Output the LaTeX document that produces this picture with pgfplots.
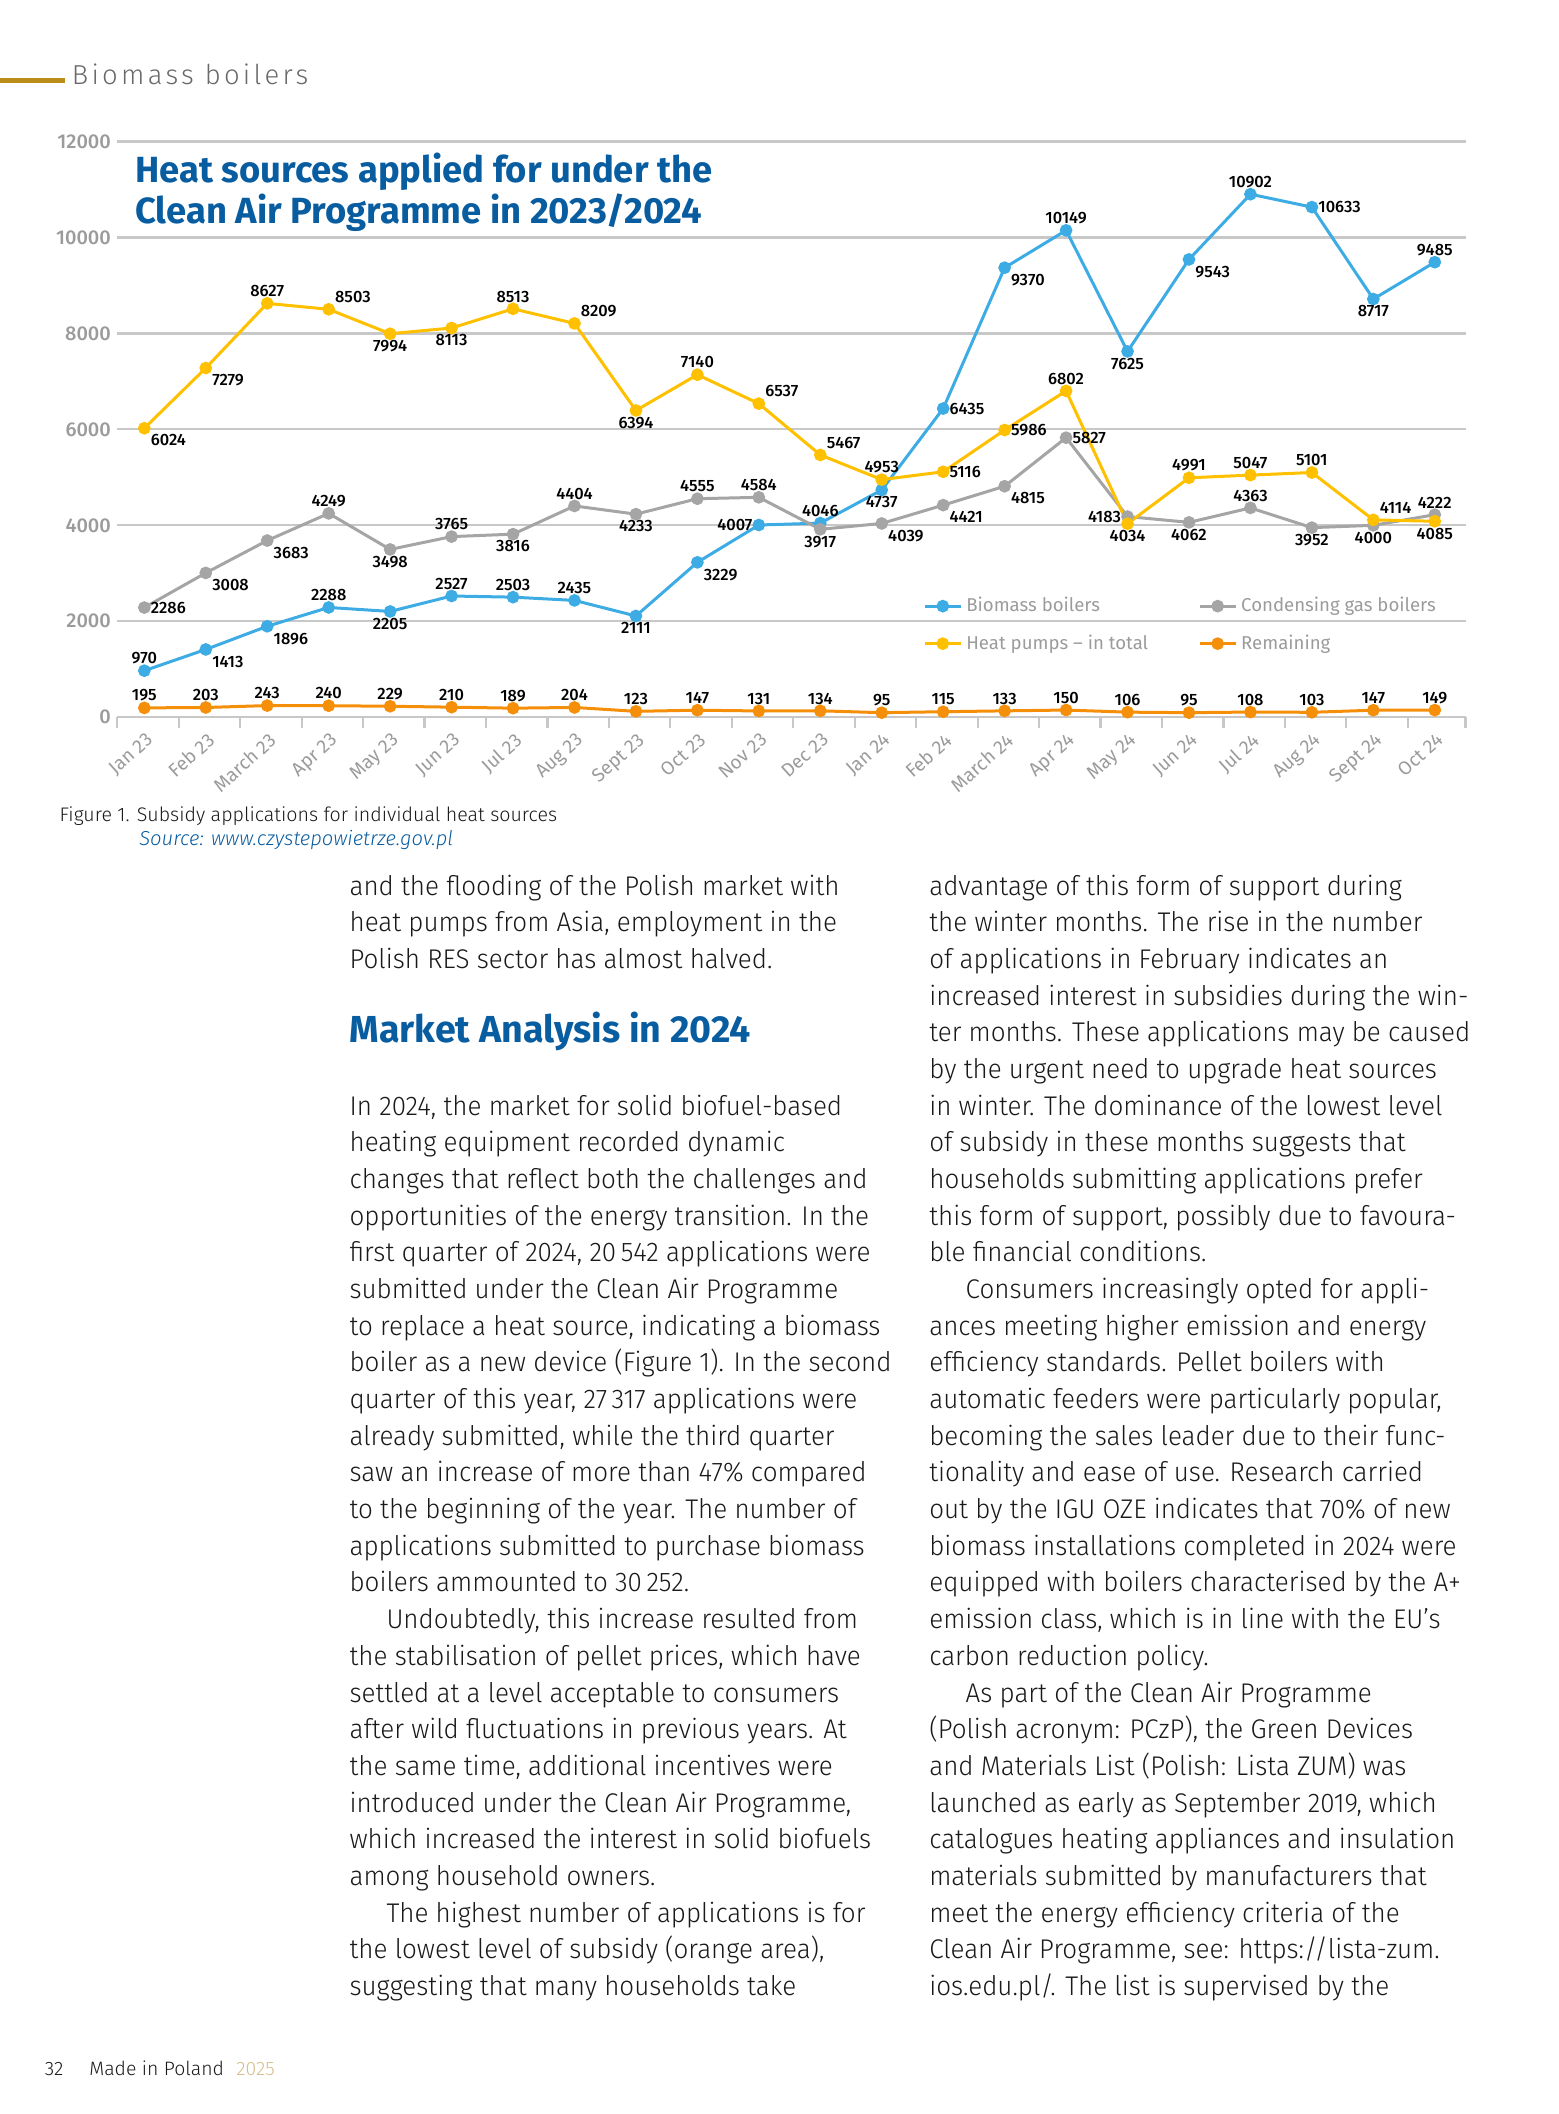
\documentclass[border=0pt]{standalone}
\usepackage{fontspec}
\setmainfont{Fira Sans}
\newfontfamily\bodyfont{Fira Sans Light}[FakeStretch=0.962]
\newfontfamily\lightfont{Fira Sans Light}
\newfontfamily\labfont{Fira Sans Medium}
\usepackage{pgfplots}
\usepackage{pgfplotstable}
\pgfplotsset{compat=1.18}

\definecolor{bioBlue}{RGB}{62,172,228}
\definecolor{hpYellow}{RGB}{255,192,0}
\definecolor{gasGrey}{RGB}{165,165,165}
\definecolor{remOrange}{RGB}{245,143,10}
\definecolor{titleBlue}{RGB}{8,92,160}
\definecolor{gridGrey}{RGB}{200,200,200}
\definecolor{tickGrey}{RGB}{155,155,155}
\definecolor{headGrey}{RGB}{105,105,105}
\definecolor{gold}{RGB}{186,140,26}
\definecolor{paleGold}{RGB}{214,188,140}
\definecolor{ink}{RGB}{25,25,25}

% x, value and label anchor for each series
\pgfplotstableread[col sep=comma]{
x,bio,ab,gas,ag,hp,ah,rem,ar
0,970,south,2286,west,6024,north west,195,south
1,1413,north west,3008,north west,7279,north west,203,south
2,1896,north west,3683,north west,8627,south,243,south
3,2288,south,4249,south,8503,south west,240,south
4,2205,north,3498,north,7994,north,229,south
5,2527,south,3765,south,8113,north,210,south
6,2503,south,3816,north,8513,south,189,south
7,2435,south,4404,south,8209,south west,204,south
8,2111,north,4233,north,6394,north,123,south
9,3229,north west,4555,south,7140,south,147,south
10,4007,east,4584,south,6537,south west,131,south
11,4046,south,3917,north,5467,south west,134,south
12,4737,north,4039,north west,4953,south,95,south
13,6435,west,4421,north west,5116,west,115,south
14,9370,north west,4815,north west,5986,west,133,south
15,10149,south,5827,west,6802,south,150,south
16,7625,north,4183,east,4034,north,106,south
17,9543,north west,4062,north,4991,south,95,south
18,10902,south,4363,south,5047,south,108,south
19,10633,west,3952,north,5101,south,103,south
20,8717,north,4000,north,4114,south west,147,south
21,9485,south,4222,south,4085,north,149,south
}\datatable

\newcommand\BL[3]{\node[anchor=base west, inner sep=0pt, text=ink,
  font=\bodyfont\fontsize{13.5}{14}\selectfont] at (#1,{-664-(#2-1)*27.2}) {#3};}

\begin{document}
\begin{tikzpicture}[x=0.6739pt,y=0.6739pt]
\path[use as bounding box] (0,0) rectangle (1156,-1568);

% running header
\fill[gold] (0,-57.6) rectangle (48,-61.8);
\node[anchor=base west, inner sep=0pt, text=headGrey] at (53,-63)
  {\lightfont\addfontfeatures{LetterSpace=12}\fontsize{13.7}{16}\selectfont Biomass boilers};

\begin{axis}[
  at={(58.63pt,-358.51pt)}, anchor=south west,
  scale only axis, width=673.9pt, height=287.76pt,
  xmin=-0.44, xmax=21.5, ymin=0, ymax=12000,
  clip=false,
  axis lines*=left,
  y axis line style={draw=none},
  x axis line style={draw=gridGrey, line width=1.1pt},
  ymajorgrids, major grid style={draw=gridGrey, line width=1.1pt},
  ytick={0,2000,...,12000},
  scaled y ticks=false,
  xtick={0,...,21},
  xticklabels={Jan 23, Feb 23, March 23, Apr 23, May 23, Jun 23, Jul 23, Aug 23,
    Sept 23, Oct 23, Nov 23, Dec 23, Jan 24, Feb 24, March 24, Apr 24, May 24,
    Jun 24, Jul 24, Aug 24, Sept 24, Oct 24},
  minor xtick={-0.44,0.56,...,20.56,21.5},
  major tick length=0pt,
  minor tick length=5.4pt,
  tick align=outside,
  minor tick style={draw=gridGrey, line width=1.1pt},
  /pgf/number format/assume math mode=true,
  /pgf/number format/1000 sep={},
  yticklabel style={font=\labfont\fontsize{10}{11}\selectfont, text=tickGrey, inner sep=0pt, xshift=-3pt},
  xticklabel style={font=\fontsize{9.5}{10}\selectfont, text=tickGrey, rotate=42,
    anchor=north east, inner sep=0pt, xshift=-4.5pt, yshift=-5.4pt},
  every axis plot/.append style={line width=1.5pt, mark=*, mark size=2.4pt},
  % the meta column holds the anchor of each value label
  point meta=explicit symbolic,
  nodes near coords={\pgfmathprintnumber[fixed, precision=0, 1000 sep={}]{\pgfkeysvalueof{/data point/y}}},
  every node near coord/.append style={font=\labfont\fontsize{8.2}{9}\selectfont,
    text=black, inner sep=2.5pt, anchor=\pgfplotspointmeta},
  legend columns=2,
  legend entries={Biomass boilers, Condensing gas boilers, Heat pumps – in total, Remaining},
  legend image code/.code={\draw[mark repeat=2, mark phase=2, #1]
    plot coordinates {(0pt,0pt) (9pt,0pt) (18pt,0pt)};},
  legend style={at={(axis cs:12.67,1925)}, anchor=west, draw=none, fill=none,
    inner sep=0pt, font=\fontsize{9.3}{10}\selectfont, text=tickGrey,
    row sep=6pt, /tikz/every even column/.append style={column sep=23pt}},
  legend cell align=left,
]
\addplot[color=bioBlue] table[x=x, y=bio, meta=ab] {\datatable};
\addplot[color=gasGrey] table[x=x, y=gas, meta=ag] {\datatable};
\addplot[color=hpYellow] table[x=x, y=hp, meta=ah] {\datatable};
\addplot[color=remOrange] table[x=x, y=rem, meta=ar] {\datatable};
\end{axis}

% chart title
\node[anchor=base west, inner sep=0pt, text=titleBlue, font=\bfseries\fontsize{18.2}{20}\selectfont]
  at (100,-135.5) {Heat sources applied for under the};
\node[anchor=base west, inner sep=0pt, text=titleBlue, font=\bfseries\fontsize{18.2}{20}\selectfont]
  at (100,-165.5) {Clean Air Programme in 2023/2024};

% caption
\node[anchor=base west, inner sep=0pt, text=ink, font=\lightfont\fontsize{9.8}{11}\selectfont]
  at (44,-609.5) {Figure 1. Subsidy applications for individual heat sources};
\node[anchor=base west, inner sep=0pt, text=titleBlue, font=\lightfont\itshape\fontsize{10.1}{11}\selectfont]
  at (103,-627) {Source: www.czystepowietrze.gov.pl};

% left column
\BL{259}{1}{and the flooding of the Polish market with}
\BL{259}{2}{heat pumps from Asia, employment in the}
\BL{259}{3}{Polish RES sector has almost halved.}
\node[anchor=base west, inner sep=0pt, text=titleBlue, font=\bfseries\fontsize{18.8}{20}\selectfont]
  at (259,-772.9) {Market Analysis in 2024};
\BL{259}{7}{In 2024, the market for solid biofuel-based}
\BL{259}{8}{heating equipment recorded dynamic}
\BL{259}{9}{changes that reflect both the challenges and}
\BL{259}{10}{opportunities of the energy transition. In the}
\BL{259}{11}{first quarter of 2024, 20\,542 applications were}
\BL{259}{12}{submitted under the Clean Air Programme}
\BL{259}{13}{to replace a heat source, indicating a biomass}
\BL{259}{14}{boiler as a new device (Figure 1). In the second}
\BL{259}{15}{quarter of this year, 27\,317 applications were}
\BL{259}{16}{already submitted, while the third quarter}
\BL{259}{17}{saw an increase of more than 47\% compared}
\BL{259}{18}{to the beginning of the year. The number of}
\BL{259}{19}{applications submitted to purchase biomass}
\BL{259}{20}{boilers ammounted to 30\,252.}
\BL{286.4}{21}{Undoubtedly, this increase resulted from}
\BL{259}{22}{the stabilisation of pellet prices, which have}
\BL{259}{23}{settled at a level acceptable to consumers}
\BL{259}{24}{after wild fluctuations in previous years. At}
\BL{259}{25}{the same time, additional incentives were}
\BL{259}{26}{introduced under the Clean Air Programme,}
\BL{259}{27}{which increased the interest in solid biofuels}
\BL{259}{28}{among household owners.}
\BL{286.4}{29}{The highest number of applications is for}
\BL{259}{30}{the lowest level of subsidy (orange area),}
\BL{259}{31}{suggesting that many households take}

% right column
\BL{689}{1}{advantage of this form of support during}
\BL{689}{2}{the winter months. The rise in the number}
\BL{689}{3}{of applications in February indicates an}
\BL{689}{4}{increased interest in subsidies during the win-}
\BL{689}{5}{ter months. These applications may be caused}
\BL{689}{6}{by the urgent need to upgrade heat sources}
\BL{689}{7}{in winter. The dominance of the lowest level}
\BL{689}{8}{of subsidy in these months suggests that}
\BL{689}{9}{households submitting applications prefer}
\BL{689}{10}{this form of support, possibly due to favoura-}
\BL{689}{11}{ble financial conditions.}
\BL{716}{12}{Consumers increasingly opted for appli-}
\BL{689}{13}{ances meeting higher emission and energy}
\BL{689}{14}{efficiency standards. Pellet boilers with}
\BL{689}{15}{automatic feeders were particularly popular,}
\BL{689}{16}{becoming the sales leader due to their func-}
\BL{689}{17}{tionality and ease of use. Research carried}
\BL{689}{18}{out by the IGU OZE indicates that 70\% of new}
\BL{689}{19}{biomass installations completed in 2024 were}
\BL{689}{20}{equipped with boilers characterised by the A+}
\BL{689}{21}{emission class, which is in line with the EU’s}
\BL{689}{22}{carbon reduction policy.}
\BL{716}{23}{As part of the Clean Air Programme}
\BL{689}{24}{(Polish acronym: PCzP), the Green Devices}
\BL{689}{25}{and Materials List (Polish: Lista ZUM) was}
\BL{689}{26}{launched as early as September 2019, which}
\BL{689}{27}{catalogues heating appliances and insulation}
\BL{689}{28}{materials submitted by manufacturers that}
\BL{689}{29}{meet the energy efficiency criteria of the}
\BL{689}{30}{Clean Air Programme, see: https://lista-zum.}
\BL{689}{31}{ios.edu.pl/. The list is supervised by the}

% footer
\node[anchor=base west, inner sep=0pt, text=ink, font=\lightfont\fontsize{9.7}{11}\selectfont]
  at (33,-1539.5) {32};
\node[anchor=base west, inner sep=0pt, text=ink, font=\lightfont\fontsize{9.7}{11}\selectfont]
  at (66,-1539.5) {Made in Poland};
\node[anchor=base west, inner sep=0pt, text=paleGold, font=\lightfont\fontsize{9.7}{11}\selectfont]
  at (175,-1539.5) {2025};
\end{tikzpicture}
\end{document}
